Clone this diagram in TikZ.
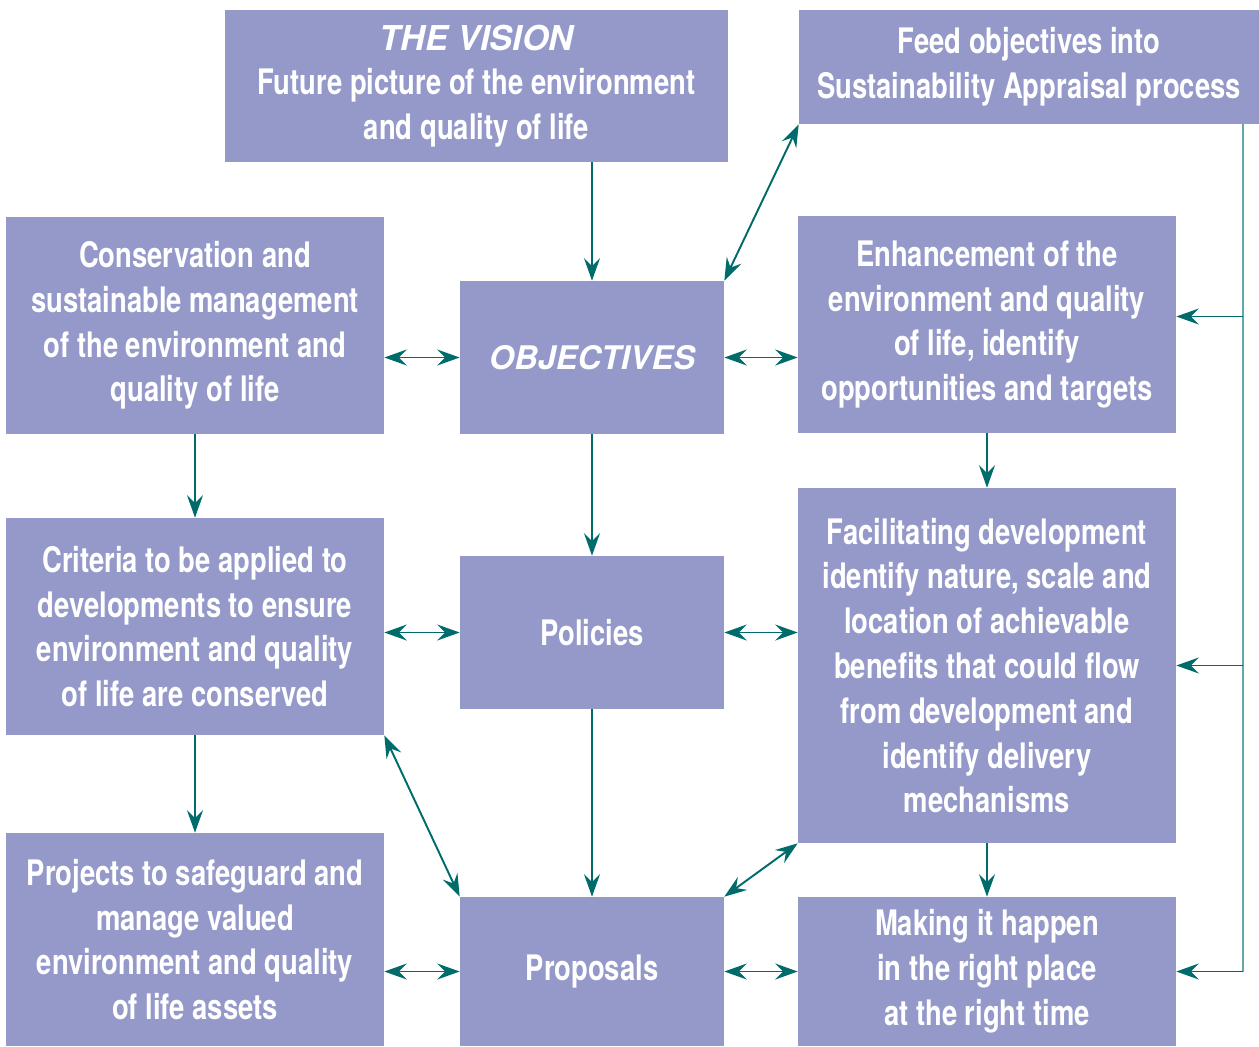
\documentclass[tikz,border=0pt]{standalone}
\usepackage{fontspec}
\setmainfont{TeX Gyre Heros}[FakeStretch=0.78]
\newfontfamily\widefont{TeX Gyre Heros}
\usetikzlibrary{arrows.meta}
\definecolor{boxblue}{HTML}{9499CA}
\definecolor{arrteal}{HTML}{006B6B}
\tikzset{
  box/.style={fill=boxblue, text=white, align=center, inner sep=0pt,
    font=\fontsize{20}{25.5}\selectfont\bfseries},
  one/.style={draw=arrteal, line width=1.1pt, -{Stealth[length=4.5mm,width=3.2mm,inset=1.6mm]}},
  two/.style={one, {Stealth[length=4.5mm,width=3.2mm,inset=1.6mm]}-{Stealth[length=4.5mm,width=3.2mm,inset=1.6mm]}},
  rail/.style={draw=arrteal!60, line width=1.1pt}
}
\begin{document}
\begin{tikzpicture}[x=0.02cm, y=-0.02cm]
	\useasboundingbox (0,0) rectangle (1259,1046);

	% boxes
	\node[box, minimum width=10.06cm, minimum height=3.04cm] (vision) at (476.5,86)
		{{\widefont\fontsize{19.5}{25.5}\selectfont\itshape THE VISION}\\Future picture of the environment\\and quality of life};
	\node[box, minimum width=9.2cm, minimum height=2.28cm] (feed) at (1029,67)
		{Feed objectives into\\Sustainability Appraisal process};
	\node[box, minimum width=7.56cm, minimum height=4.34cm] (cons) at (195,325.5)
		{Conservation and\\sustainable management\\of the environment and\\quality of life};
	\node[box, minimum width=5.28cm, minimum height=3.06cm, font=\widefont\fontsize{18.5}{22}\selectfont\bfseries\itshape] (obj) at (592,357.5)
		{OBJECTIVES};
	\node[box, minimum width=7.56cm, minimum height=4.34cm] (enh) at (987,324.5)
		{Enhancement of the\\environment and quality\\of life, identify\\opportunities and targets};
	\node[box, minimum width=7.56cm, minimum height=4.34cm] (crit) at (195,626.5)
		{Criteria to be applied to\\developments to ensure\\environment and quality\\of life are conserved};
	\node[box, minimum width=5.28cm, minimum height=3.06cm] (pol) at (592,632.5)
		{Policies};
	\node[box, minimum width=7.56cm, minimum height=7.1cm] (fac) at (987,665.5)
		{Facilitating development\\identify nature, scale and\\location of achievable\\benefits that could flow\\from development and\\identify delivery\\mechanisms};
	\node[box, minimum width=7.56cm, minimum height=4.26cm] (proj) at (195,939.5)
		{Projects to safeguard and\\manage valued\\environment and quality\\of life assets};
	\node[box, minimum width=5.28cm, minimum height=2.98cm] (prop) at (592,971.5)
		{Proposals};
	\node[box, minimum width=7.56cm, minimum height=2.98cm] (make) at (987,971.5)
		{Making it happen\\in the right place\\at the right time};

	% connectors
	\draw[one] (vision.south -| obj) -- (obj.north);
	\draw[two] (feed.south west) -- (obj.north east);
	\draw[two] (cons.east |- obj.west) -- (obj.west);
	\draw[two] (obj.east) -- (enh.west |- obj.east);
	\draw[one] (cons) -- (crit);
	\draw[one] (obj) -- (pol);
	\draw[one] (enh) -- (fac);
	\draw[two] (crit.east |- pol.west) -- (pol.west);
	\draw[two] (pol.east) -- (fac.west |- pol.east);
	\draw[one] (crit) -- (proj);
	\draw[one] (pol) -- (prop);
	\draw[two] (crit.south east) -- (prop.north west);
	\draw[two] (fac.south west) -- (prop.north east);
	\draw[one] (fac) -- (make);
	\draw[two] (proj.east |- prop.west) -- (prop.west);
	\draw[two] (prop.east) -- (make.west |- prop.east);

	% feedback rail
	\coordinate (top) at (1243,124);
	\coordinate (enhin) at ([yshift=0.16cm]enh.east);
	\draw[rail] (top) -- (top |- make.east);
	\draw[one] (top |- make.east) -- (make.east);
	\draw[one] (top |- enhin) -- (enhin);
	\draw[one] (top |- fac.east) -- (fac.east);
\end{tikzpicture}
\end{document}
